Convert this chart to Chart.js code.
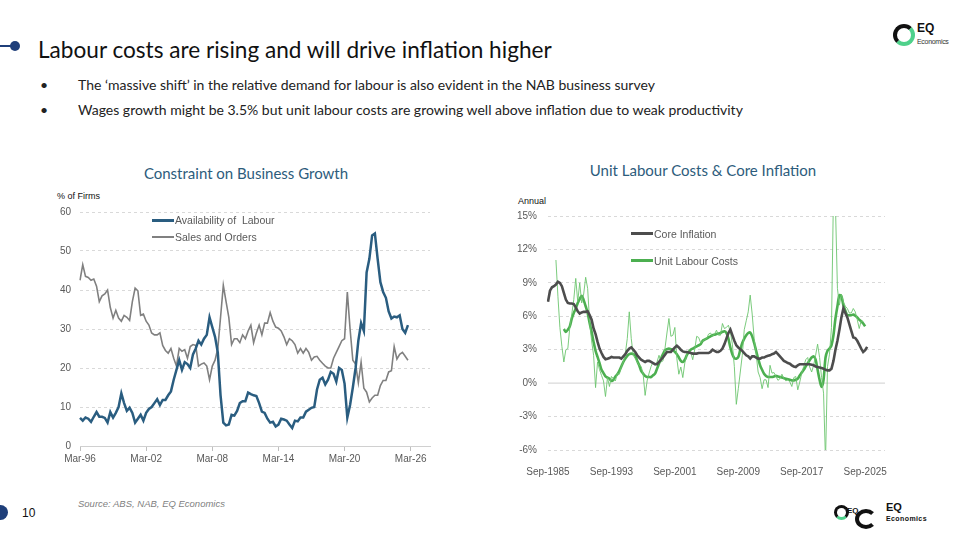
<!DOCTYPE html>
<html>
<head>
<meta charset="utf-8">
<script src="https://cdn.jsdelivr.net/npm/chart.js@4.4.1/dist/chart.umd.min.js"></script>
<style>
  html, body { margin: 0; padding: 0; background: #fff; }
  body { width: 960px; height: 540px; position: relative; overflow: hidden; font-family: Lato, "Noto Sans", sans-serif; color: #111; }
  .abs { position: absolute; white-space: nowrap; }
  .title { left: 38px; top: 36px; font-size: 22.6px; line-height: 27px; color: #111; }
  .bullet { font-size: 14px; line-height: 18px; color: #222; }
  .ctitle { font-size: 15px; line-height: 18px; color: #2d5c7c; transform: translateX(-50%); }
  .small { font-family: "Liberation Sans", Arial, sans-serif; font-size: 9px; color: #111; }
  .leg { font-family: "Liberation Sans", Arial, sans-serif; font-size: 10.5px; color: #595959; line-height: 12px; }
  .legline { height: 3px; width: 22px; }
  canvas { position: absolute; }
</style>
</head>
<body>

<!-- header -->
<div class="abs" style="left:0;top:45px;width:13px;height:2px;background:#1f3f7a"></div>
<div class="abs" style="left:10px;top:41px;width:10px;height:10px;border-radius:50%;background:#1f3f7a"></div>
<div class="abs title">Labour costs are rising and will drive inflation higher</div>
<div class="abs bullet" style="left:40px;top:76px">•</div>
<div class="abs bullet" style="left:78px;top:76px">The ‘massive shift’ in the relative demand for labour is also evident in the NAB business survey</div>
<div class="abs bullet" style="left:40px;top:101px">•</div>
<div class="abs bullet" style="left:78px;top:101px">Wages growth might be 3.5% but unit labour costs are growing well above inflation due to weak productivity</div>

<!-- top-right logo -->
<div class="abs" style="left:893px;top:24px;width:14px;height:14px;border-radius:50%;border:4px solid #111;border-bottom-color:#4fd18b;border-right-color:#4fd18b"></div>
<div class="abs" style="left:917px;top:21px;font:bold 12px 'Liberation Sans',Arial,sans-serif;color:#111">EQ</div>
<div class="abs" style="left:917px;top:38px;font:7px 'Liberation Sans',Arial,sans-serif;color:#333;letter-spacing:-0.3px">Economics</div>

<!-- chart titles -->
<div class="abs ctitle" style="left:246px;top:164px">Constraint on Business Growth</div>
<div class="abs ctitle" style="left:703px;top:161px">Unit Labour Costs &amp; Core Inflation</div>
<div class="abs small" style="left:57px;top:191px">% of Firms</div>
<div class="abs small" style="left:518px;top:196px">Annual</div>

<canvas id="leftChart"></canvas>
<canvas id="rightChart"></canvas>

<!-- legends -->
<div class="abs legline" style="left:152px;top:219px;background:#2a5d80"></div>
<div class="abs leg" style="left:175px;top:214px">Availability of&nbsp; Labour</div>
<div class="abs legline" style="left:152px;top:236px;height:2px;background:#808080"></div>
<div class="abs leg" style="left:175px;top:231px">Sales and Orders</div>

<div class="abs legline" style="left:631px;top:232px;background:#4d4d4d"></div>
<div class="abs leg" style="left:654px;top:228px">Core Inflation</div>
<div class="abs legline" style="left:631px;top:259px;background:#4caf50"></div>
<div class="abs leg" style="left:654px;top:255px">Unit Labour Costs</div>

<!-- footer -->
<div class="abs" style="left:-7px;top:505px;width:15px;height:15px;border-radius:50%;background:#1f3f7a"></div>
<div class="abs" style="left:22px;top:506px;font:12px 'Liberation Sans',Arial,sans-serif;color:#111">10</div>
<div class="abs" style="left:78px;top:498px;font:italic 9.5px 'Liberation Sans',Arial,sans-serif;color:#7f7f7f">Source: ABS, NAB, EQ Economics</div>

<div class="abs" style="left:834px;top:505px;width:9px;height:9px;border-radius:50%;border:3px solid #111;border-bottom-color:#4fd18b"></div>
<div class="abs" style="left:847px;top:506px;font:bold 8px 'Liberation Sans',Arial,sans-serif;color:#111">EQ</div>
<div class="abs" style="left:855px;top:509px;width:14px;height:12px;border-radius:50%;border:4px solid #111;border-right-color:transparent"></div>
<div class="abs" style="left:886px;top:501px;font:bold 11px 'Liberation Sans',Arial,sans-serif;color:#111">EQ</div>
<div class="abs" style="left:886px;top:515px;font:bold 7px 'Liberation Sans',Arial,sans-serif;color:#111;letter-spacing:0.4px">Economics</div>

<script>
// ---- data: left chart (quarterly, Mar-96 onwards) ----
const availLabour = [
  7.2, 6.5, 7.3, 7.0, 6.2, 7.5, 8.7, 7.5,
  7.5, 7.2, 6.0, 8.7, 7.3, 8.5, 10.0, 13.5,
  11.0, 9.0, 9.8, 8.5, 6.0, 7.0, 8.0, 6.5,
  8.5, 9.5, 10.0, 11.0, 12.0, 10.5, 11.8, 11.8,
  13.0, 14.0, 17.0, 19.5, 22.0, 19.5, 21.5, 21.0,
  20.0, 23.5, 25.0, 27.0, 26.0, 27.5, 28.5, 33.0,
  30.5, 28.0, 24.0, 13.0, 6.0, 5.3, 5.5, 8.0,
  7.8, 9.0, 11.0, 11.5, 11.5, 13.7, 13.3, 13.0,
  12.8, 11.0, 8.8, 8.5, 7.0, 6.0, 6.2, 5.0,
  5.5, 7.0, 6.8, 6.5, 5.5, 4.6, 6.5, 6.3,
  7.3, 7.3, 8.8, 9.3, 9.8, 10.0, 14.5, 17.0,
  17.5, 15.8, 17.0, 19.0, 18.5, 16.5, 20.0, 19.5,
  16.0, 7.3, 10.5, 15.0, 20.0, 27.0, 31.5, 29.5,
  44.5, 48.0, 54.0, 54.5, 48.0, 42.0, 39.5, 38.0,
  34.5, 32.7, 33.2, 33.0, 33.5, 30.0, 29.0, 31.0
];
const salesOrders = [
  42.5, 46.5, 43.5, 43.2, 42.5, 42.8, 41.0, 37.0,
  38.5, 39.0, 40.0, 35.5, 32.8, 34.8, 32.8, 32.0,
  33.5, 33.0, 32.2, 37.0, 40.5, 39.8, 33.5, 33.8,
  32.0, 31.0, 29.0, 28.5, 28.5, 29.0, 25.8, 24.5,
  23.8, 25.0, 22.5, 20.5, 25.0, 24.3, 24.7, 22.5,
  25.5, 26.0, 25.8, 20.5, 21.0, 21.3, 20.5, 17.0,
  20.5, 22.0, 25.0, 33.0, 41.2, 37.0, 33.0, 26.0,
  27.5, 27.5, 26.5, 28.5, 27.5, 29.5, 31.0, 26.5,
  29.0, 31.0, 28.5, 31.5, 31.5, 34.2, 32.0, 30.5,
  30.2, 29.5, 28.0, 26.0, 27.5, 27.0, 26.0, 23.8,
  25.0, 23.8, 25.0, 24.0, 22.0, 22.8, 23.0, 22.0,
  21.2, 20.5, 20.0, 20.0, 22.5, 24.0, 25.5, 27.0,
  27.5, 39.5, 30.0, 22.0, 21.0, 16.2, 21.5, 14.8,
  13.8, 11.3, 12.3, 13.0, 13.0, 15.5, 16.8, 16.8,
  19.0, 19.3, 25.5, 22.3, 23.5, 24.0, 23.0, 22.0
];
const leftYTicks = [0, 10, 20, 30, 40, 50, 60];

// ---- data: right chart (quarterly, Sep-1985 onwards) ----
const coreInflation = [
  7.3, 8.3,
  8.6, 8.7, 8.85, 9.1,
  9.0, 8.7, 8.1, 7.5,
  7.2, 7.15, 7.15, 7.1,
  6.8, 6.45, 6.25, 6.35,
  6.4, 6.4, 6.45, 6.1,
  5.7, 4.9, 4.4, 3.7,
  3.1, 2.7, 2.35, 2.15,
  2.2, 2.25, 2.35, 2.3,
  2.3, 2.3, 2.3, 2.2,
  2.4, 2.6, 2.9, 3.1,
  3.2, 3.0, 2.8, 2.5,
  2.3, 2.1, 2.0, 1.9,
  2.0, 2.0, 1.9, 1.8,
  1.7, 1.7, 1.9, 2.1,
  2.3, 2.55, 2.8, 2.8,
  2.8, 3.0, 3.2, 3.35,
  3.2, 3.0, 2.85, 2.8,
  2.8, 2.75, 2.7, 2.65,
  2.65, 2.65, 2.7, 2.7,
  2.7, 2.7, 2.7, 2.7,
  2.8, 3.0, 2.9, 2.8,
  2.8, 2.9, 3.1, 3.5,
  4.0, 4.5, 4.8, 4.3,
  3.8, 3.4, 3.2, 3.05,
  2.9, 2.7, 2.5, 2.4,
  2.2, 2.4, 2.4, 2.3,
  2.2, 2.2, 2.3, 2.3,
  2.4, 2.45, 2.5, 2.6,
  2.65, 2.8, 2.6, 2.4,
  2.2, 2.0, 1.9, 1.8,
  1.75, 1.6, 1.5, 1.45,
  1.6, 1.7, 1.7, 1.7,
  1.7, 1.7, 1.7, 1.65,
  1.6, 1.5, 1.45, 1.4,
  1.35, 1.3, 1.2, 1.15,
  1.15, 1.3, 2.0, 3.0,
  3.8, 4.8, 5.9, 6.7,
  6.3, 5.9, 5.3, 4.7,
  4.1, 4.05, 3.8, 3.45,
  3.1, 2.8, 2.95, 3.25
];
const ulcTrend = [
  null, null,
  null, null, null, null,
  null, null, 4.85, 4.6,
  4.8, 5.1, 5.8, 6.3,
  6.7, 7.2, 7.55, 7.85,
  7.45, 6.9, 6.3, 5.4,
  4.6, 3.7, 2.9, 2.35,
  1.8, 1.2, 0.9, 0.6,
  0.5, 0.4, 0.2, 0.3,
  0.6, 0.8, 1.1, 1.5,
  1.9, 2.2, 2.45, 2.6,
  2.65, 2.6, 2.5, 2.0,
  1.6, 1.1, 0.85, 0.65,
  0.55, 0.55, 0.55, 0.7,
  0.85, 1.3, 1.75, 2.2,
  2.6, 2.95, 3.05, 3.1,
  3.05, 3.0, 2.8, 2.6,
  2.3, 2.0, 1.9, 2.1,
  2.5, 2.8, 3.0, 3.1,
  3.2, 3.3, 3.4, 3.5,
  3.8, 3.9, 4.0, 4.1,
  4.2, 4.3, 4.35, 4.4,
  4.45, 4.5, 4.6, 4.65,
  4.5, 4.0, 3.2, 2.6,
  2.25, 2.2, 2.35, 3.0,
  3.6, 4.0, 4.3, 4.5,
  4.55, 4.2, 3.6, 2.9,
  2.2, 1.6, 1.2, 0.85,
  0.65, 0.55, 0.55, 0.55,
  0.6, 0.65, 0.6, 0.55,
  0.5, 0.45, 0.4, 0.35,
  0.3, 0.25, 0.25, 0.3,
  0.4, 0.7, 0.95, 1.2,
  1.5, 1.8, 2.05, 2.3,
  2.4, 2.1, 1.2, 0.3,
  -0.35, 0.3, 2.3, 2.9,
  3.1, 3.4, 4.3, 5.8,
  6.9, 7.9, 7.8, 7.0,
  6.5, 6.1, 6.1, 6.1,
  6.15, 6.05, 5.9, 5.7,
  5.55, 5.35, 5.1, null
];
const ulcAnnual = [
  null, null,
  null, null, 11.05, 7.8,
  5.0, 3.3, 1.9, 3.0,
  3.1, 5.0, 6.2, 7.5,
  9.4, 7.3, 9.0, 7.2,
  8.0, 9.5, 8.5, 5.5,
  3.8, 2.5, -0.4, 1.9,
  1.2, 0.7, 0.2, -1.2,
  0.5, -0.3, 0.6, 0.4,
  0.2, 0.9, 0.8, 1.5,
  1.9, 2.65, 4.0, 6.4,
  4.0, 2.5, 2.2, 1.9,
  1.6, 1.5, 0.8, -1.1,
  0.2, 0.9, 1.5, 1.9,
  1.6, 1.9, 2.5, 1.9,
  2.0, 3.1, 4.5, 5.8,
  4.2, 4.3, 5.0, 2.2,
  0.8, 1.45, 0.5, 1.8,
  2.6, 2.8, 2.8, 2.1,
  3.0, 4.2, 4.1, 3.6,
  3.8, 3.9, 4.0, 4.4,
  4.5, 4.2, 4.4, 4.75,
  4.3, 4.3, 5.35, 4.9,
  5.0, 5.2, 4.6, 3.5,
  1.5, -1.9, -0.5, 1.0,
  2.5, 4.8, 5.6, 6.4,
  7.9, 6.2, 4.0, 2.6,
  1.0, 0.5, -0.5, 0.3,
  0.3, -0.4, 1.6, 0.9,
  0.95, 0.6, 0.25, 0.4,
  0.8, 0.4, 0.2, 0.3,
  0.1, -0.3, 0.5, 0.6,
  -0.6, 0.1, 0.9, 1.5,
  2.1, 2.3, 1.45, 1.0,
  1.6, 2.5, 3.5, 2.3,
  0.5, -0.9, -7.0, 1.5,
  2.6, 5.0, 17.0, 16.0,
  8.5, 7.0, 8.0, 7.3,
  6.9, 6.7, 6.3, 6.3,
  6.7, 6.4, 5.7, 4.9,
  5.6, 5.5, null, null
];
const rightYTicks = [-6, -3, 0, 3, 6, 9, 12, 15];

// quarterly category labels
function quarterLabels(startYear, startQ, count, fourDigit) {
  const months = ['Mar', 'Jun', 'Sep', 'Dec'];
  const out = [];
  for (let i = 0; i < count; i++) {
    const q = (startQ + i) % 4;
    const y = startYear + Math.floor((startQ + i) / 4);
    out.push(months[q] + '-' + (fourDigit ? y : String(y).slice(2)));
  }
  return out;
}
const leftLabels = quarterLabels(1996, 0, 128, false);   // axis runs a little past Mar-26
const rightLabels = quarterLabels(1985, 2, 171, true);   // axis runs a little past Sep-2025

const tickFont = { family: "'Liberation Sans', Arial, sans-serif", size: 10 };
const tickColor = '#595959';
const gridColor = '#d9d9d9';

// Left chart
const leftCanvas = document.getElementById('leftChart');
leftCanvas.style.left = '30px';
leftCanvas.style.top = '190px';
leftCanvas.style.width = '410px';
leftCanvas.style.height = '284px';
leftCanvas.width = 410; leftCanvas.height = 284;

new Chart(leftCanvas.getContext('2d'), {
  type: 'line',
  data: {
    labels: leftLabels,
    datasets: [{
      label: 'Availability of  Labour',
      data: availLabour,
      borderColor: '#2a5d80',
      borderWidth: 2.5,
      pointRadius: 0,
      tension: 0
    }, {
      label: 'Sales and Orders',
      data: salesOrders,
      borderColor: '#808080',
      borderWidth: 1.6,
      pointRadius: 0,
      tension: 0
    }]
  },
  options: {
    responsive: false,
    animation: false,
    layout: { padding: { top: 22, right: 10, left: 0, bottom: 0 } },
    plugins: { legend: { display: false }, tooltip: { enabled: false } },
    scales: {
      x: {
        ticks: {
          autoSkip: false, maxRotation: 0, color: tickColor, font: tickFont, padding: 2,
          callback: function (val, index) { return index % 24 === 0 ? this.getLabelForValue(val) : null; }
        },
        grid: { drawOnChartArea: false, drawTicks: true, tickLength: 5, color: '#bfbfbf' },
        border: { display: true, color: '#d0d0d0' },
        afterFit: s => { s.height = 28; }
      },
      y: {
        min: 0, max: 60,
        afterBuildTicks: s => { s.ticks = leftYTicks.map(v => ({ value: v })); },
        ticks: { color: tickColor, font: tickFont, padding: 9 },
        grid: { color: gridColor, drawTicks: false },
        border: { display: false, dash: [3, 3] },
        afterFit: s => { s.width = 50; }
      }
    }
  }
});

// Right chart
const zeroLine = {
  id: 'zeroLine',
  beforeDatasetsDraw(chart) {
    const { ctx, chartArea, scales } = chart;
    const y = scales.y.getPixelForValue(0);
    ctx.save();
    ctx.strokeStyle = '#d9d9d9';
    ctx.lineWidth = 1.2;
    ctx.beginPath();
    ctx.moveTo(chartArea.left, y);
    ctx.lineTo(chartArea.right, y);
    ctx.stroke();
    ctx.restore();
  }
};

const rightCanvas = document.getElementById('rightChart');
rightCanvas.style.left = '500px';
rightCanvas.style.top = '195px';
rightCanvas.style.width = '400px';
rightCanvas.style.height = '285px';
rightCanvas.width = 400; rightCanvas.height = 285;

new Chart(rightCanvas.getContext('2d'), {
  type: 'line',
  data: {
    labels: rightLabels,
    datasets: [{
      label: 'Core Inflation',
      data: coreInflation,
      borderColor: '#4d4d4d',
      borderWidth: 2.6,
      pointRadius: 0,
      tension: 0
    }, {
      label: 'Unit Labour Costs (annual)',
      data: ulcAnnual,
      borderColor: '#6cc56e',
      borderWidth: 0.9,
      pointRadius: 0,
      tension: 0,
      spanGaps: false
    }, {
      label: 'Unit Labour Costs',
      data: ulcTrend,
      borderColor: '#4caf50',
      borderWidth: 2.6,
      pointRadius: 0,
      tension: 0.3
    }]
  },
  options: {
    responsive: false,
    animation: false,
    layout: { padding: { top: 21, right: 15, left: 0, bottom: 0 } },
    plugins: { legend: { display: false }, tooltip: { enabled: false } },
    scales: {
      x: {
        ticks: {
          autoSkip: false, maxRotation: 0, color: tickColor, font: tickFont, padding: 8,
          callback: function (val, index) { return index % 32 === 0 ? this.getLabelForValue(val) : null; }
        },
        grid: { display: false },
        border: { display: false },
        afterFit: s => { s.height = 30; }
      },
      y: {
        min: -6, max: 15,
        afterBuildTicks: s => { s.ticks = rightYTicks.map(v => ({ value: v })); },
        ticks: { color: tickColor, font: tickFont, padding: 11, callback: v => v + '%' },
        grid: { color: ctx => ctx.tick && ctx.tick.value === 0 ? 'transparent' : gridColor, drawTicks: false },
        border: { display: false, dash: [3, 3] },
        afterFit: s => { s.width = 48; }
      }
    }
  },
  plugins: [zeroLine]
});
</script>
</body>
</html>
